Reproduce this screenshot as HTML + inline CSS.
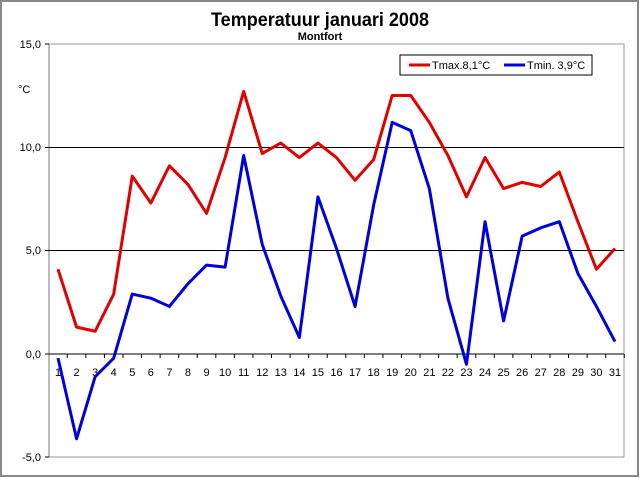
<!DOCTYPE html>
<html><head><meta charset="utf-8"><style>
html,body{margin:0;padding:0;background:#fff}
svg{display:block}
text{font-family:"Liberation Sans",Arial,sans-serif}
</style></head><body>
<svg width="640" height="478" viewBox="0 0 640 478" xmlns="http://www.w3.org/2000/svg">
<rect x="1" y="1" width="637" height="475" fill="#fff" stroke="#888" stroke-width="2"/>
<text x="320" y="26" font-size="19" font-weight="bold" text-anchor="middle" textLength="218" lengthAdjust="spacingAndGlyphs">Temperatuur januari 2008</text>
<text x="320" y="40" font-size="11" font-weight="bold" text-anchor="middle">Montfort</text>
<rect x="49" y="44" width="575" height="413" fill="none" stroke="#999" stroke-width="1"/>
<line x1="49" y1="44" x2="49" y2="457" stroke="#777"/>
<line x1="49" y1="147.5" x2="624" y2="147.5" stroke="#000"/>
<line x1="49" y1="250.5" x2="624" y2="250.5" stroke="#000"/>
<line x1="49" y1="354" x2="624" y2="354" stroke="#000"/>
<g stroke="#000">
<line x1="45" y1="44" x2="49" y2="44"/><line x1="45" y1="147.5" x2="49" y2="147.5"/><line x1="45" y1="250.5" x2="49" y2="250.5"/><line x1="45" y1="354" x2="49" y2="354"/><line x1="45" y1="457" x2="49" y2="457"/>
</g>
<g font-size="11" text-anchor="end" fill="#000">
<text x="41" y="48">15,0</text><text x="41" y="151">10,0</text><text x="41" y="254">5,0</text><text x="41" y="358">0,0</text><text x="41" y="461">-5,0</text>
</g>
<text x="18" y="93" font-size="11">°C</text>
<g id="ticks" stroke="#000"></g>
<g id="xl" font-size="11" text-anchor="middle"></g>
<polyline id="tmax" fill="none" stroke="#e00000" stroke-width="3" stroke-linejoin="round"/>
<polyline id="tmin" fill="none" stroke="#0000dd" stroke-width="3" stroke-linejoin="round"/>
<rect x="400" y="55" width="192" height="20" fill="#fff" stroke="#000"/>
<line x1="409" y1="65" x2="430" y2="65" stroke="#e00000" stroke-width="3"/>
<text x="432" y="69" font-size="11">Tmax.8,1°C</text>
<line x1="504" y1="65" x2="525" y2="65" stroke="#0000dd" stroke-width="3"/>
<text x="527" y="69" font-size="11">Tmin. 3,9°C</text>
</svg>
<script>
var mx=[4.1,1.3,1.1,2.9,8.6,7.3,9.1,8.2,6.8,9.5,12.7,9.7,10.2,9.5,10.2,9.5,8.4,9.4,12.5,12.5,11.2,9.6,7.6,9.5,8.0,8.3,8.1,8.8,6.4,4.1,5.1];
var mn=[-0.2,-4.1,-1.1,-0.2,2.9,2.7,2.3,3.4,4.3,4.2,9.6,5.3,2.8,0.8,7.6,5.1,2.3,7.2,11.2,10.8,8.0,2.7,-0.5,6.4,1.6,5.7,6.1,6.4,3.9,2.3,0.6];
function X(i){return 58+i*(557/30);}
function Y(v){return 354-v*20.68;}
document.getElementById('tmax').setAttribute('points',mx.map(function(v,i){return X(i)+','+Y(v)}).join(' '));
document.getElementById('tmin').setAttribute('points',mn.map(function(v,i){return X(i)+','+Y(v)}).join(' '));
var ns='http://www.w3.org/2000/svg',t=document.getElementById('ticks'),xl=document.getElementById('xl');
for(var i=0;i<31;i++){
 var l=document.createElementNS(ns,'line');var x=X(i)+557/60;
 l.setAttribute('x1',x);l.setAttribute('x2',x);l.setAttribute('y1',354);l.setAttribute('y2',358);t.appendChild(l);
 var tx=document.createElementNS(ns,'text');tx.setAttribute('x',X(i));tx.setAttribute('y',376);tx.textContent=i+1;xl.appendChild(tx);
}
</script>
</body></html>
